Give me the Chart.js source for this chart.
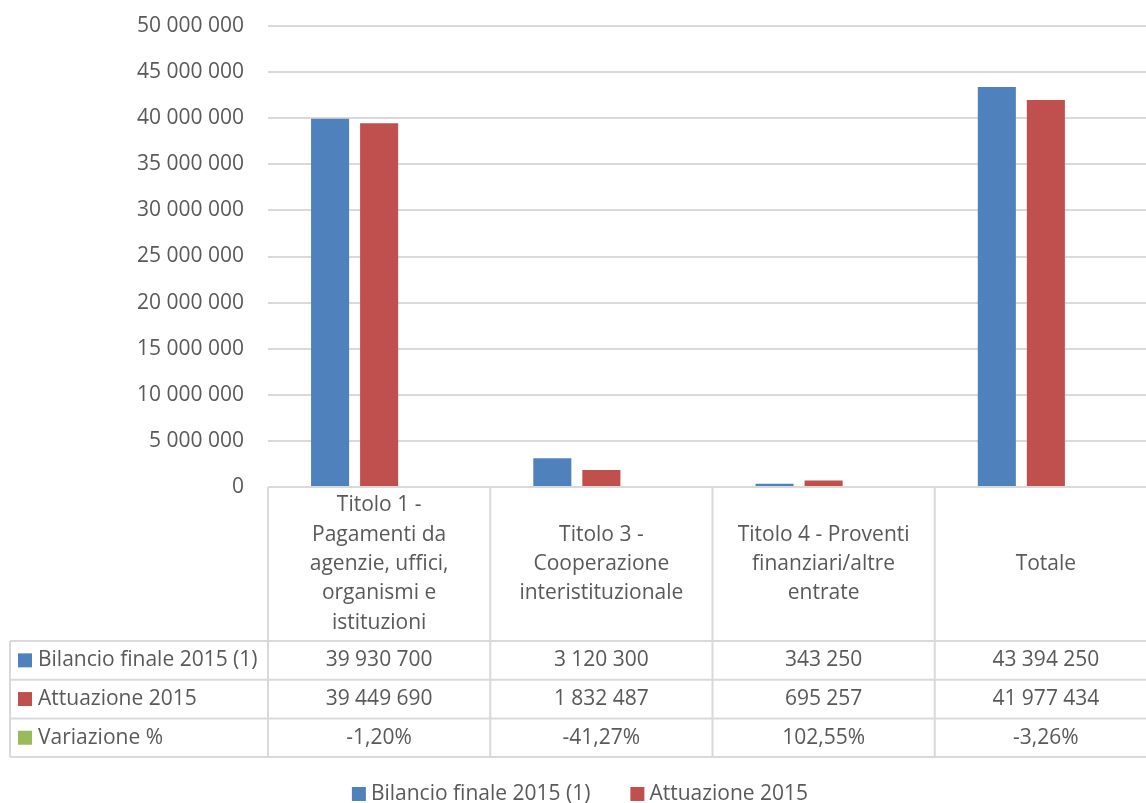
<!DOCTYPE html>
<html>
<head>
<meta charset="utf-8">
<script src="https://cdn.jsdelivr.net/npm/chart.js@4"></script>
<style>
    body { margin: 0; background: #ffffff; }
    #wrap { width: 1146px; height: 803px; overflow: hidden; position: relative; }
</style>
</head>
<body>
<div id="wrap">
    <canvas id="chart" width="1158" height="803"></canvas>
</div>
<script>
// Categorie (etichette su piu righe, come nel grafico)
const categories = [
    ['Titolo 1 -', 'Pagamenti da', 'agenzie, uffici,', 'organismi e', 'istituzioni'],
    ['Titolo 3 -', 'Cooperazione', 'interistituzionale'],
    ['Titolo 4 - Proventi', 'finanziari/altre', 'entrate'],
    ['Totale']
];

// Serie
const bilancio = [39930700, 3120300, 343250, 43394250];
const attuazione = [39449690, 1832487, 695257, 41977434];
const variazione = [-1.20, -41.27, 102.55, -3.26];

const seriesNames = ['Bilancio finale 2015 (1)', 'Attuazione 2015', 'Variazione %'];
const seriesColors = ['#4F81BD', '#C0504D', '#9BBB59'];

const FONT = '21px "Open Sans"';
const TEXT = '#595959';
const LINE = '#d9d9d9';

// 39930700 -> "39 930 700"
function formatNumber(n) {
    return String(n).replace(/\B(?=(\d{3})+(?!\d))/g, ' ');
}

// -1.2 -> "-1,20%"
function formatPercent(v) {
    return v.toFixed(2).replace('.', ',') + '%';
}

// Tabella dati sotto il grafico + legenda
const tablePlugin = {
    id: 'dataTable',
    afterDraw(chart) {
        const ctx = chart.ctx;
        const area = chart.chartArea;
        const x = chart.scales.x;
        const colW = (x.right - x.left) / categories.length;
        const top = area.bottom;
        const headH = 154;
        const rowH = 38.7;
        const leftX = 10;
        const rows = [
            { name: seriesNames[0], color: seriesColors[0], cells: bilancio.map(formatNumber) },
            { name: seriesNames[1], color: seriesColors[1], cells: attuazione.map(formatNumber) },
            { name: seriesNames[2], color: seriesColors[2], cells: variazione.map(formatPercent) }
        ];
        const bottom = top + headH + rowH * rows.length;

        ctx.save();
        ctx.strokeStyle = LINE;
        ctx.lineWidth = 2;
        ctx.beginPath();
        // linea superiore (solo sopra le categorie)
        ctx.moveTo(x.left, top);
        ctx.lineTo(x.right, top);
        // linee orizzontali delle righe
        for (let r = 0; r <= rows.length; r++) {
            const yy = top + headH + r * rowH;
            ctx.moveTo(leftX, yy);
            ctx.lineTo(x.right, yy);
        }
        // linee verticali
        ctx.moveTo(leftX, top + headH);
        ctx.lineTo(leftX, bottom);
        for (let c = 0; c <= categories.length; c++) {
            const xx = x.left + c * colW;
            ctx.moveTo(xx, top);
            ctx.lineTo(xx, bottom);
        }
        ctx.stroke();

        ctx.font = FONT;
        ctx.fillStyle = TEXT;
        ctx.textAlign = 'center';
        ctx.textBaseline = 'middle';

        // intestazioni delle categorie
        const lineH = 29.3;
        categories.forEach((lines, i) => {
            const cx = x.getPixelForValue(i);
            const startY = top + headH / 2 - (lines.length - 1) * lineH / 2;
            lines.forEach((t, k) => ctx.fillText(t, cx, startY + k * lineH));
        });

        // righe dei valori
        rows.forEach((row, r) => {
            const cy = top + headH + r * rowH + rowH / 2;
            ctx.fillStyle = row.color;
            ctx.fillRect(18, cy - 7, 14, 14);
            ctx.fillStyle = TEXT;
            ctx.textAlign = 'left';
            ctx.fillText(row.name, 38, cy);
            ctx.textAlign = 'center';
            row.cells.forEach((t, i) => ctx.fillText(t, x.getPixelForValue(i), cy));
        });

        // legenda (solo le prime due serie)
        const legendY = 794;
        const items = [0, 1].map(i => ({
            name: seriesNames[i],
            color: seriesColors[i],
            w: 19 + ctx.measureText(seriesNames[i]).width
        }));
        const gap = 40;
        const total = items.reduce((s, it) => s + it.w, 0) + gap * (items.length - 1);
        let lx = 580 - total / 2;
        ctx.textAlign = 'left';
        items.forEach(it => {
            ctx.fillStyle = it.color;
            ctx.fillRect(lx, legendY - 7, 14, 14);
            ctx.fillStyle = TEXT;
            ctx.fillText(it.name, lx + 19, legendY);
            lx += it.w + gap;
        });
        ctx.restore();
    }
};

const barChart = new Chart(document.getElementById('chart'), {
    type: 'bar',
    data: {
        labels: categories,
        datasets: [
            { label: seriesNames[0], data: bilancio, backgroundColor: seriesColors[0] },
            { label: seriesNames[1], data: attuazione, backgroundColor: seriesColors[1] },
            { label: seriesNames[2], data: variazione, backgroundColor: seriesColors[2] }
        ]
    },
    options: {
        responsive: false,
        animation: false,
        categoryPercentage: 0.662,
        barPercentage: 0.776,
        layout: { padding: { top: 26, right: 1, left: 0, bottom: 0 } },
        plugins: {
            legend: { display: false },
            tooltip: { enabled: false }
        },
        scales: {
            x: {
                grid: { display: false },
                border: { display: false },
                ticks: { display: false },
                afterFit(scale) { scale.height = 316; }
            },
            y: {
                min: 0,
                max: 50000000,
                ticks: {
                    stepSize: 5000000,
                    padding: 24,
                    color: TEXT,
                    font: { family: 'Open Sans', size: 21 },
                    callback: (v) => formatNumber(v)
                },
                grid: { color: LINE, lineWidth: 2, drawTicks: false },
                border: { display: false },
                afterFit(scale) {
                    scale.width = 268;
                    scale.paddingTop = 0;
                    scale.paddingBottom = 0;
                }
            }
        }
    },
    plugins: [tablePlugin]
});
</script>
</body>
</html>
